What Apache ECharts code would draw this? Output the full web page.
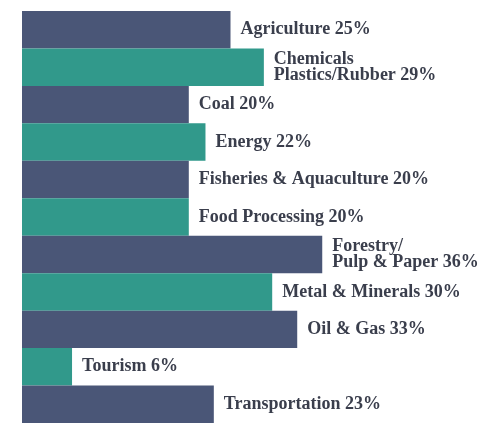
<!DOCTYPE html>
<html>
<head>
<meta charset="utf-8">
<script src="https://cdn.jsdelivr.net/npm/echarts@6/dist/echarts.min.js"></script>
<style>
html,body{margin:0;padding:0;background:#fff;}
#chart{width:481px;height:423px;}
</style>
</head>
<body>
<div id="chart"></div>
<script>
const categories = [
  "Agriculture",
  "Chemicals\nPlastics/Rubber",
  "Coal",
  "Energy",
  "Fisheries & Aquaculture",
  "Food Processing",
  "Forestry/\nPulp & Paper",
  "Metal & Minerals",
  "Oil & Gas",
  "Tourism",
  "Transportation"
];
const values = [25, 29, 20, 22, 20, 20, 36, 30, 33, 6, 23];
const colors = ["#4a5677", "#31998b"];

const chart = echarts.init(document.getElementById('chart'), null, {renderer: 'canvas'});
chart.setOption({
  animation: false,
  backgroundColor: '#ffffff',
  grid: {left: 22, top: 11, width: 417, height: 418},
  xAxis: {type: 'value', min: 0, max: 50, show: false},
  yAxis: {type: 'category', data: categories, inverse: true, show: false},
  series: [{
    type: 'bar',
    barCategoryGap: '0%',
    data: values.map((v, i) => ({value: v, itemStyle: {color: colors[i % 2]}})),
    label: {
      show: true,
      position: 'right',
      distance: 10,
      formatter: p => p.name + ' ' + p.value + '%',
      fontFamily: '"Liberation Serif", "Times New Roman", serif',
      fontWeight: 'bold',
      fontSize: 18,
      lineHeight: 16,
      color: '#3a3e4c',
      align: 'left'
    }
  }]
});
</script>
</body>
</html>
